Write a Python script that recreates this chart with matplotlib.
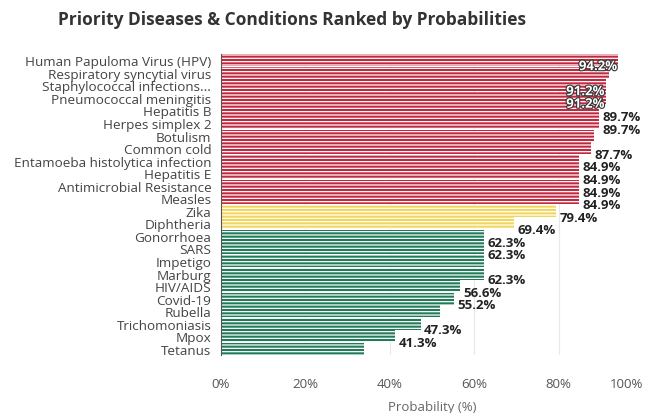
import matplotlib.pyplot as plt
import matplotlib.patheffects as pe

plt.rcParams['font.family'] = ['Open Sans', 'DejaVu Sans']
plt.rcParams['hatch.linewidth'] = 0.9

diseases = ['Human Papuloma Virus (HPV)', 'Respiratory syncytial virus',
            'Staphylococcal infections...', 'Pneumococcal meningitis',
            'Hepatitis B', 'Herpes simplex 2', 'Botulism', 'Common cold',
            'Entamoeba histolytica infection', 'Hepatitis E',
            'Antimicrobial Resistance', 'Measles', 'Zika', 'Diphtheria',
            'Gonorrhoea', 'SARS', 'Impetigo', 'Marburg', 'HIV/AIDS',
            'Covid-19', 'Rubella', 'Trichomoniasis', 'Mpox', 'Tetanus']
probs = [94.2, 92.0, 91.2, 91.2, 89.7, 89.7, 88.5, 87.7, 84.9, 84.9,
         84.9, 84.9, 79.4, 69.4, 62.3, 62.3, 62.3, 62.3, 56.6, 55.2,
         52.0, 47.3, 41.3, 34.0]
# labels that are visible on the chart (others hidden)
shown = [True, False, True, True, True, True, False, True, True, True,
         True, True, True, True, True, True, False, True, True, True,
         False, True, True, False]
xticks = [0, 20, 40, 60, 80, 100]

def col(v):
    if v >= 80:
        return '#C0293F'
    elif v >= 65:
        return '#F2D65B'
    return '#217A58'

fig = plt.figure(figsize=(6.52, 4.14), dpi=100)
ax = fig.add_axes([0.339, 0.14, 0.647, 0.727])

ypos = list(range(len(diseases)))
colors = [col(v) for v in probs]
ax.barh(ypos, probs, height=0.96, color=colors, edgecolor='white',
        hatch='-----', linewidth=0, zorder=2)

for y, v, s in zip(ypos, probs, shown):
    if not s:
        continue
    if v > 90:
        ax.text(v - 0.3, y + 0.5, f'{v:.1f}%', ha='right', va='center',
                fontsize=9.5, fontweight='bold', color='white', zorder=4,
                path_effects=[pe.withStroke(linewidth=1.6, foreground='#333333')])
    else:
        ax.text(v + 0.8, y + 0.5, f'{v:.1f}%', ha='left', va='center',
                fontsize=9.5, fontweight='bold', color='#222222', zorder=4)

ax.set_yticks(ypos)
ax.set_yticklabels(diseases, fontsize=9.7, color='#444444')
ax.set_ylim(len(diseases) - 0.5, -0.5)
ax.set_xlim(0, 100)
ax.set_xticks(xticks)
tl = ax.set_xticklabels([f'{t}%' for t in xticks], fontsize=9.5, color='#555555')
tl[-1].set_ha('right')
ax.tick_params(axis='both', length=0)
ax.tick_params(axis='y', pad=7)
ax.tick_params(axis='x', pad=16)
ax.grid(axis='x', color='#E8E8E8', linewidth=0.8, zorder=0)
for sp in ['top', 'right', 'bottom']:
    ax.spines[sp].set_visible(False)
ax.spines['left'].set_color('#555555')
ax.spines['left'].set_linewidth(0.8)
ax.set_xlabel('Probability (%)', fontsize=9.5, color='#666666', labelpad=7)

fig.text(0.448, 0.952, 'Priority Diseases & Conditions Ranked by Probabilities',
         fontsize=12.5, fontweight='bold', color='#333333', ha='center', va='center')

plt.savefig('out.png', dpi=100)
